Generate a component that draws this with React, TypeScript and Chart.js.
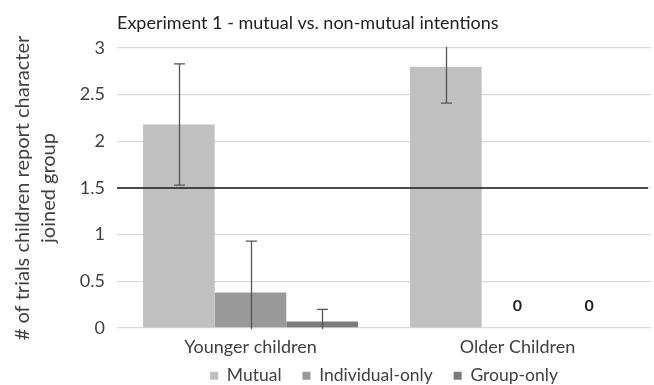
import React, { useEffect, useRef } from "react";
import { Chart, registerables } from "chart.js";

Chart.register(...registerables);

const categories = ["Younger children", "Older Children"];
const seriesNames = ["Mutual", "Individual-only", "Group-only"];
const mutual = [2.18, 2.8];
const individualOnly = [0.38, 0];
const groupOnly = [0.07, 0];
const mutualErr = [0.65, 0.39];
const individualErr = [0.55, 0];
const groupErr = [0.13, 0];
const referenceLine = 1.5;
const yMin = 0;
const yMax = 3;
const yStep = 0.5;

const FONT = "Lato, 'Open Sans', sans-serif";
const TEXT = "#404040";

export default function App() {
  const ref = useRef<HTMLCanvasElement | null>(null);

  useEffect(() => {
    document.body.style.margin = "0";
    const canvas = ref.current;
    if (!canvas) return;
    const errs = [mutualErr, individualErr, groupErr];

    const overlay = {
      id: "overlay",
      afterDatasetsDraw(chart: any) {
        const { ctx, chartArea } = chart;
        const y = chart.scales.y;
        // error bars
        ctx.save();
        ctx.beginPath();
        ctx.rect(chartArea.left, chartArea.top - 1, chartArea.right - chartArea.left, chartArea.bottom - chartArea.top + 2);
        ctx.clip();
        ctx.strokeStyle = "#555555";
        ctx.lineWidth = 1.3;
        chart.data.datasets.forEach((ds: any, di: number) => {
          const meta = chart.getDatasetMeta(di);
          meta.data.forEach((bar: any, i: number) => {
            const e = errs[di][i];
            if (!e) return;
            const v = ds.data[i];
            const yt = y.getPixelForValue(v + e);
            const yb = y.getPixelForValue(v - e);
            const x = Math.round(bar.x) + 0.5;
            ctx.beginPath();
            ctx.moveTo(x, yt);
            ctx.lineTo(x, yb);
            ctx.moveTo(x - 5.5, yt);
            ctx.lineTo(x + 5.5, yt);
            ctx.moveTo(x - 5.5, yb);
            ctx.lineTo(x + 5.5, yb);
            ctx.stroke();
          });
        });
        ctx.restore();
        // reference line
        const ly = y.getPixelForValue(referenceLine);
        ctx.save();
        ctx.strokeStyle = "#1a1a1a";
        ctx.lineWidth = 1.5;
        ctx.beginPath();
        ctx.moveTo(chartArea.left, ly);
        ctx.lineTo(chartArea.right - 3, ly);
        ctx.stroke();
        ctx.restore();
        // zero value labels
        ctx.save();
        ctx.fillStyle = "#222222";
        ctx.font = `bold 16px ${FONT}`;
        ctx.textAlign = "center";
        ctx.textBaseline = "middle";
        chart.data.datasets.forEach((ds: any, di: number) => {
          const meta = chart.getDatasetMeta(di);
          meta.data.forEach((bar: any, i: number) => {
            if (ds.data[i] === 0) {
              ctx.fillText(String(ds.data[i]), bar.x, bar.y - 22);
            }
          });
        });
        ctx.restore();
      },
    };

    const defaultLabels = Chart.defaults.plugins.legend.labels.generateLabels;

    const chart = new Chart(canvas, {
      type: "bar",
      data: {
        labels: categories,
        datasets: [
          { label: seriesNames[0], data: mutual, backgroundColor: "#c0c0c0" },
          { label: seriesNames[1], data: individualOnly, backgroundColor: "#999999" },
          { label: seriesNames[2], data: groupOnly, backgroundColor: "#7a7a7a" },
        ],
      },
      options: {
        animation: false,
        responsive: false,
        maintainAspectRatio: false,
        layout: { padding: { top: 0, right: 3, left: 0, bottom: 0 } },
        datasets: { bar: { barPercentage: 1, categoryPercentage: 0.805 } },
        scales: {
          x: {
            afterFit: (scale: any) => {
              scale.height = 29;
            },
            grid: { display: false, drawTicks: false },
            border: { display: false },
            ticks: { color: TEXT, font: { family: FONT, size: 18 }, padding: 8 },
          },
          y: {
            min: yMin,
            max: yMax,
            afterFit: (scale: any) => {
              scale.width = 117;
            },
            ticks: {
              stepSize: yStep,
              color: TEXT,
              font: { family: FONT, size: 18 },
              padding: 12,
              callback: (v: any) => String(Number(v)),
            },
            grid: { color: "#d9d9d9", lineWidth: 1.3, drawTicks: false },
            border: { display: false },
            title: {
              display: true,
              text: ["# of trials children report character", "joined group"],
              color: TEXT,
              font: { family: FONT, size: 20, lineHeight: 1.3 },
              padding: { top: 10, bottom: 0 },
            },
          },
        },
        plugins: {
          title: {
            display: true,
            text: "Experiment 1 - mutual vs. non-mutual intentions",
            align: "start",
            fullSize: false,
            color: "#222222",
            font: { family: FONT, size: 18, weight: "normal" },
            padding: { top: 12, bottom: 14.4 },
          },
          legend: {
            position: "bottom",
            fullSize: false,
            maxHeight: 28,
            labels: {
              color: TEXT,
              font: { family: FONT, size: 17.5 },
              boxWidth: 8,
              boxHeight: 8,
              padding: 10,
              generateLabels: (c: any) => {
                const items = defaultLabels(c);
                return items.map((it: any, i: number) =>
                  i < items.length - 1 ? { ...it, text: it.text + "\u2002\u2009" } : it
                );
              },
            },
          },
          tooltip: { enabled: false },
        },
      },
      plugins: [overlay],
    });
    return () => chart.destroy();
  }, []);

  return (
    <div style={{ width: 654, height: 385, background: "#ffffff" }}>
      <canvas ref={ref} width={654} height={385} style={{ display: "block" }} />
    </div>
  );
}
